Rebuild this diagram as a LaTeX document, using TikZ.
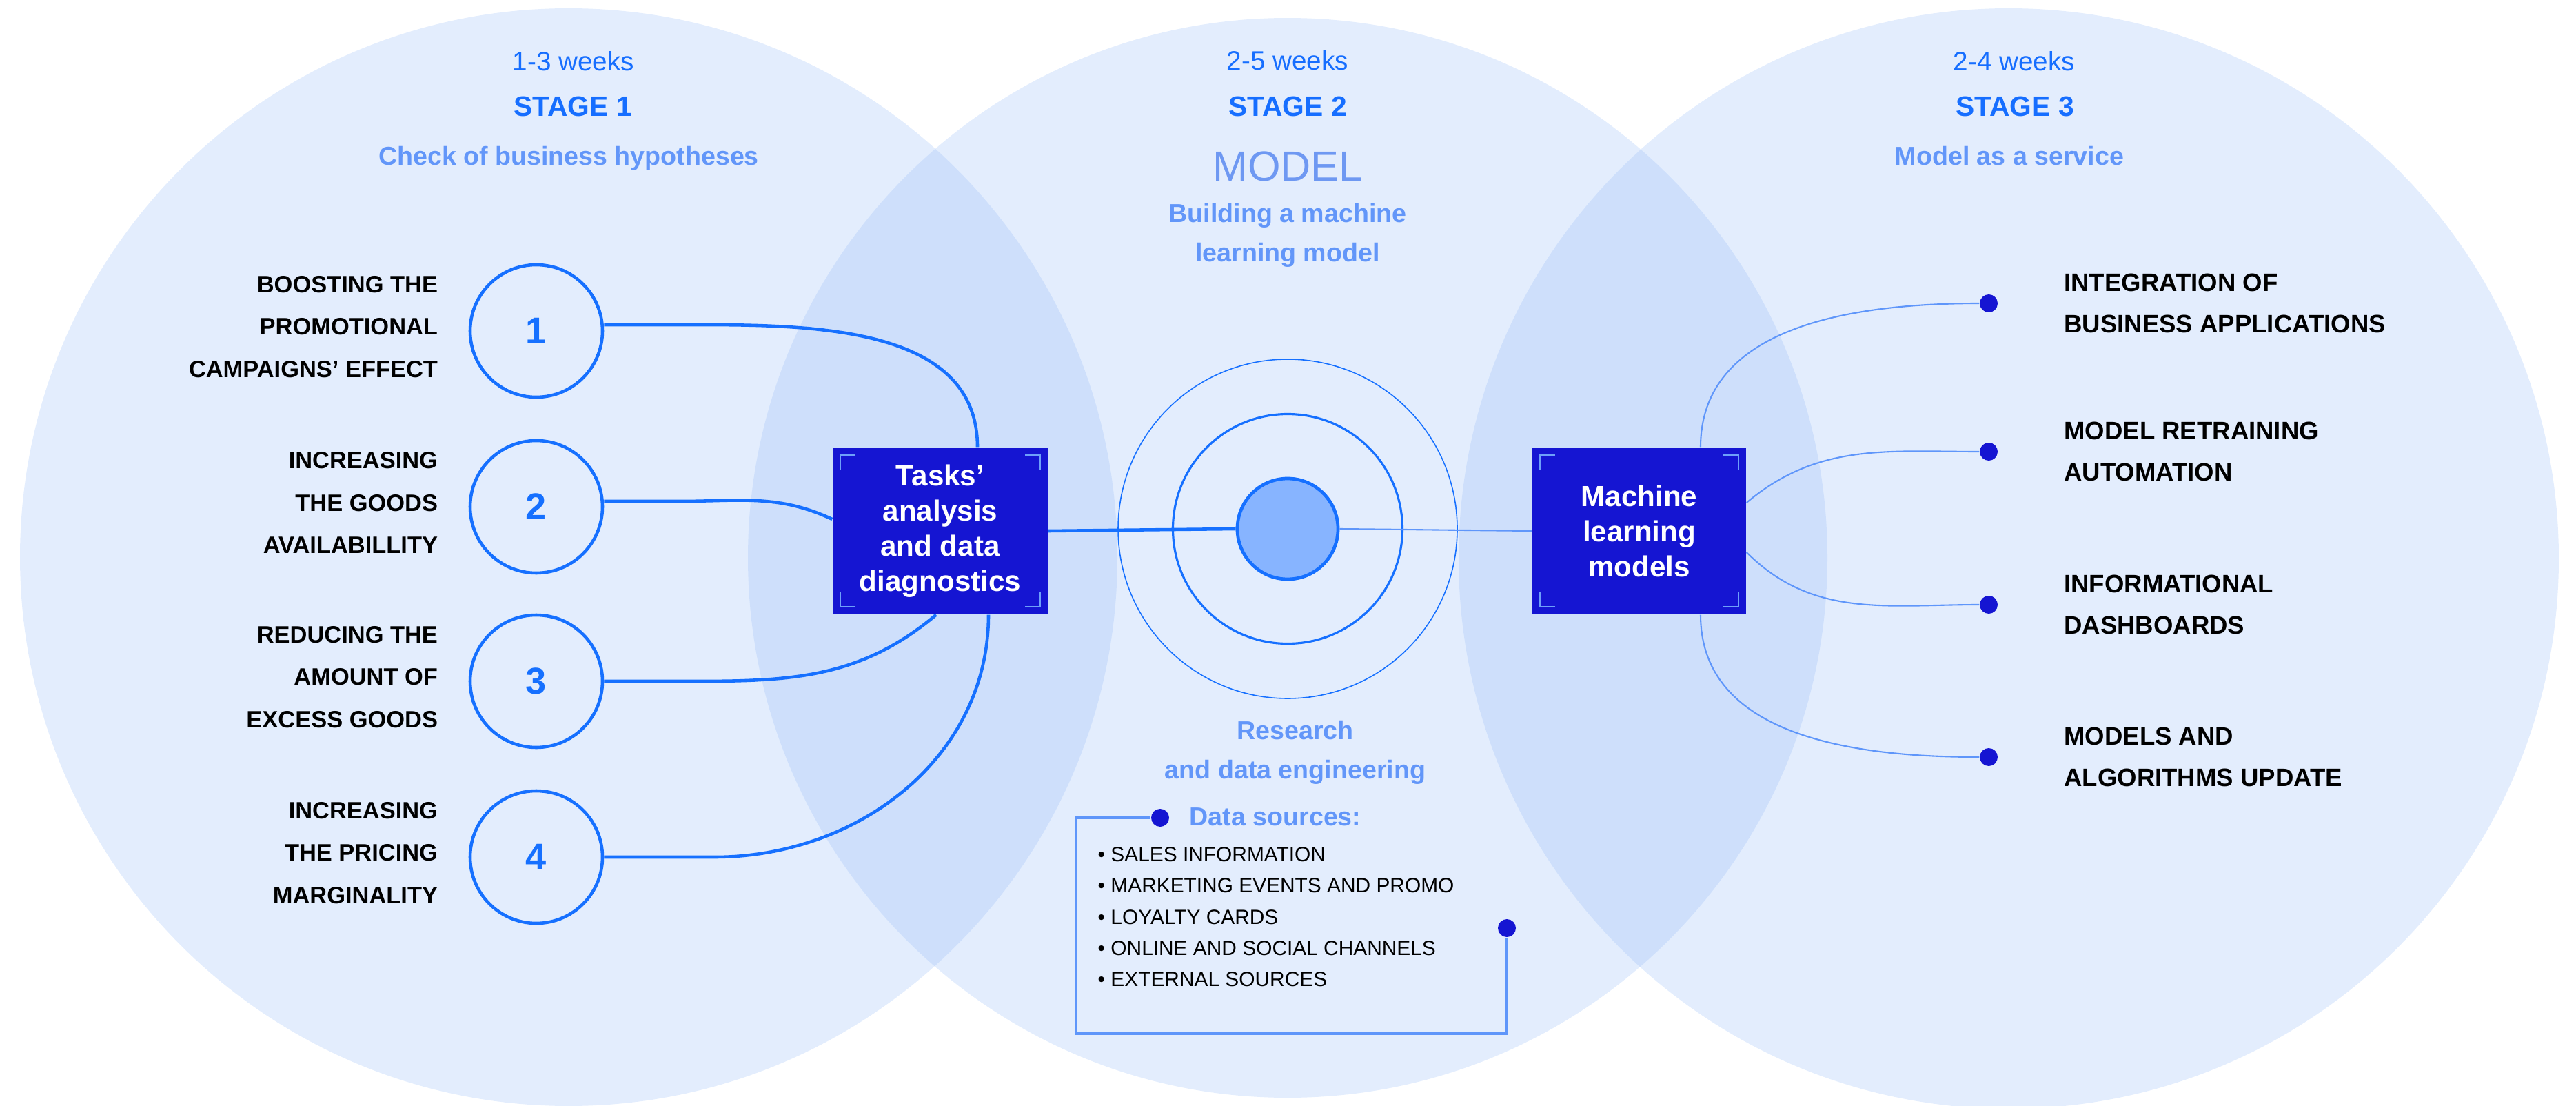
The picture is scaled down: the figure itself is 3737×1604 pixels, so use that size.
\documentclass[tikz,border=0pt]{standalone}
\usepackage{fontspec}
\setmainfont{Liberation Sans}
\usetikzlibrary{positioning}

\definecolor{circlefill}{RGB}{143,183,247}
\definecolor{stageblue}{RGB}{22,110,255}
\definecolor{softblue}{RGB}{98,150,249}
\definecolor{modelblue}{RGB}{110,152,242}
\definecolor{boxnavy}{RGB}{21,21,210}
\definecolor{ringblue}{RGB}{22,112,255}
\definecolor{corefill}{RGB}{135,180,255}
\definecolor{lineblue}{RGB}{95,150,250}
\definecolor{markblue}{RGB}{110,160,250}

\tikzset{
    stagefill/.style={fill=circlefill, fill opacity=0.25},
    weeks/.style={text=stageblue, font=\fontsize{11}{13}\selectfont, anchor=base},
    stagename/.style={text=stageblue, font=\fontsize{11.6}{14}\selectfont\bfseries, anchor=base},
    subtitle/.style={text=softblue, inner sep=0pt, font=\fontsize{10.7}{16.2}\selectfont\bfseries, align=center},
    numcircle/.style={circle, draw=ringblue, line width=1.3pt, minimum size=19.2mm, text=ringblue, font=\fontsize{15.4}{18}\selectfont\bfseries},
    goal/.style={inner sep=0pt, yshift=0.6mm, font=\fontsize{9.8}{17.4}\selectfont\bfseries, align=right},
    usecase/.style={inner sep=0pt, font=\fontsize{10.4}{16.9}\selectfont\bfseries, align=left},
    cornermarks/.style={path picture={
        \draw[markblue, line width=0.6pt]
            ([shift={(1.1mm,-3.3mm)}]path picture bounding box.north west) -- ++(0mm,2.2mm) -- ++(2.2mm,0mm)
            ([shift={(-3.3mm,-1.1mm)}]path picture bounding box.north east) -- ++(2.2mm,0mm) -- ++(0mm,-2.2mm)
            ([shift={(1.1mm,3.3mm)}]path picture bounding box.south west) -- ++(0mm,-2.2mm) -- ++(2.2mm,0mm)
            ([shift={(-3.3mm,1.1mm)}]path picture bounding box.south east) -- ++(2.2mm,0mm) -- ++(0mm,2.2mm);
    }},
    darkbox/.style={rectangle, fill=boxnavy, text=white, cornermarks, minimum width=31.2mm, minimum height=24.2mm,
        inner sep=0pt, font=\fontsize{12}{14.5}\selectfont\bfseries, align=center},
    enddot/.style={circle, fill=boxnavy, minimum size=2.6mm, inner sep=0pt},
    link/.style={draw=ringblue, line width=1.3pt},
    thinlink/.style={draw=lineblue, line width=0.6pt},
}

\begin{document}
\begin{tikzpicture}[x=0.1mm, y=-0.1mm]
    \useasboundingbox (0,0) rectangle (3737,1604);

    % three stages
    \fill[stagefill] (825,808) circle (79.6mm);
    \fill[stagefill] (1868,809) circle (78.3mm);
    \fill[stagefill] (2914,810) circle (79.8mm);

    \node[weeks] (w1) at (832,103) {1-3 weeks};
    \node[stagename] (s1) at (831,169) {STAGE 1};
    \node[subtitle, anchor=base] (sub1) at (825,240) {Check of business hypotheses};

    \node[weeks] (w2) at (1868,102) {2-5 weeks};
    \node[stagename] (s2) at (1868,169) {STAGE 2};
    \node[anchor=base, text=modelblue, font=\fontsize{17.4}{20}\selectfont] (model) at (1868,263) {MODEL};
    \node[subtitle] (sub2) at (1868,341) {Building a machine\\learning model};

    \node[weeks] (w3) at (2922,103) {2-4 weeks};
    \node[stagename] (s3) at (2923,169) {STAGE 3};
    \node[subtitle, anchor=base] (sub3) at (2915,240) {Model as a service};

    % hypotheses
    \node[numcircle] (c1) at (778,480) {1};
    \node[numcircle] (c2) at (778,735) {2};
    \node[numcircle] (c3) at (778,988) {3};
    \node[numcircle] (c4) at (778,1243) {4};

    \node[goal, left=4.4mm of c1] (g1) {BOOSTING THE\\PROMOTIONAL\\CAMPAIGNS’ EFFECT};
    \node[goal, left=4.4mm of c2] (g2) {INCREASING\\THE GOODS\\AVAILABILLITY};
    \node[goal, left=4.4mm of c3] (g3) {REDUCING THE\\AMOUNT OF\\EXCESS GOODS};
    \node[goal, left=4.4mm of c4] (g4) {INCREASING\\THE PRICING\\MARGINALITY};

    % boxes and target
    \node[darkbox] (tasks) at (1364,770) {Tasks’\\analysis\\and data\\diagnostics};
    \node[darkbox, minimum width=31mm] (mlmodels) at (2378,770) {Machine\\learning\\models};

    \node[circle, draw=ringblue, line width=0.45pt, minimum size=49.2mm] (outerring) at (1868,767) {};
    \node[circle, draw=ringblue, line width=0.9pt, minimum size=33.3mm] (midring) at (1868,767) {};
    \node[circle, draw=ringblue, fill=corefill, line width=1.35pt, minimum size=14.6mm] (core) at (1868,767) {};

    \draw[link] (tasks.east) -- (core.west);
    \draw[thinlink] (core.east) -- (mlmodels.west);

    \draw[link] ([yshift=0.9mm]c1.east) -- ++(130,0) to[out=0, in=90] ([xshift=5.4mm]tasks.north);
    \draw[link] ([yshift=0.8mm]c2.east) -- ++(110,0) to[out=0, in=155] ([yshift=1.7mm]tasks.west);
    \draw[link] (c3.east) -- ++(130,0) to[out=0, in=-140] ([xshift=-0.6mm]tasks.south);
    \draw[link] (c4.east) -- ++(160,0) to[out=0, in=-90] ([xshift=7mm]tasks.south);

    % services
    \node[enddot] (d1) at (2885,440) {};
    \node[enddot] (d2) at (2885,655) {};
    \node[enddot] (d3) at (2885,877) {};
    \node[enddot] (d4) at (2885,1098) {};

    \node[usecase, right=9.5mm of d1] (u1) {INTEGRATION OF\\BUSINESS APPLICATIONS};
    \node[usecase, right=9.5mm of d2] (u2) {MODEL RETRAINING\\AUTOMATION};
    \node[usecase, right=9.5mm of d3] (u3) {INFORMATIONAL\\DASHBOARDS};
    \node[usecase, right=9.5mm of d4] (u4) {MODELS AND\\ALGORITHMS UPDATE};

    \draw[thinlink] ([xshift=8.9mm]mlmodels.north) to[out=90, in=180] (d1);
    \draw[thinlink] ([yshift=4.1mm]mlmodels.east) to[out=40, in=180] (d2);
    \draw[thinlink] ([yshift=-3.1mm]mlmodels.east) to[out=-45, in=180] (d3);
    \draw[thinlink] ([xshift=8.9mm]mlmodels.south) to[out=-90, in=180] (d4);

    % data sources
    \node[subtitle] (research) at (1879,1091) {Research\\and data engineering};
    \node[subtitle, anchor=base west] (dstitle) at (1725,1197) {Data sources:};
    \node[anchor=west, inner sep=0pt, align=left, font=\fontsize{8.5}{12.9}\selectfont] (dslist) at (1592,1330)
        {• SALES INFORMATION\\• MARKETING EVENTS AND PROMO\\• LOYALTY CARDS\\• ONLINE AND SOCIAL CHANNELS\\• EXTERNAL SOURCES};

    \node[enddot] (ds1) at (1683,1186) {};
    \node[enddot] (ds2) at (2186,1346) {};
    \coordinate (framecorner) at (1561,1499);
    \draw[draw=lineblue, line width=1pt] (ds1) -| (framecorner) -| (ds2);
\end{tikzpicture}
\end{document}
